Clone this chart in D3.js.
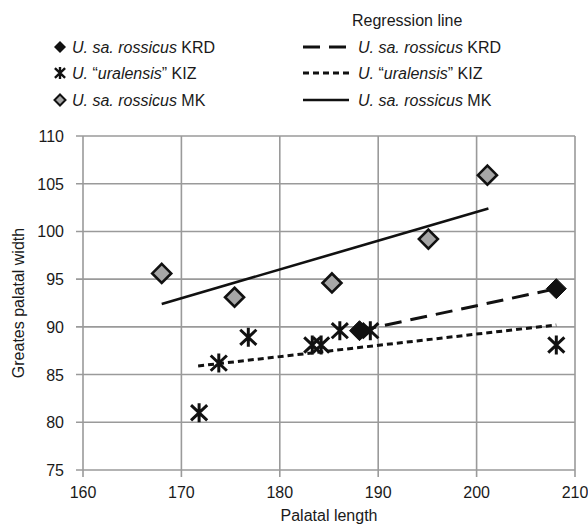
<!DOCTYPE html>
<html>
<head>
<meta charset="utf-8">
<script src="https://cdn.jsdelivr.net/npm/d3@7"></script>
<style>
  body { margin: 0; background: #fff; }
  text { font-family: "Liberation Sans", Arial, sans-serif; fill: #1a1a1a; }
</style>
</head>
<body>
<div id="chart"></div>
<script>
// points: [palatal length, palatal width]
const krdPoints = [[188.1, 89.6], [208.1, 94.0]];
const kizPoints = [[171.8, 81.0], [173.8, 86.2], [176.8, 88.9], [183.3, 88.1], [184.2, 88.1],
                   [186.1, 89.6], [189.2, 89.6], [208.1, 88.1]];
const mkPoints = [[168.0, 95.6], [175.4, 93.1], [185.3, 94.6], [195.1, 99.2], [201.1, 105.9]];

// regression line ends as drawn
const krdLine = [[188.1, 89.6], [208.1, 94.0]];
const kizLine = [[171.7, 85.9], [208.1, 90.2]];
const mkLine = [[168.0, 92.4], [201.2, 102.4]];

const xTicks = [160, 170, 180, 190, 200, 210];
const yTicks = [75, 80, 85, 90, 95, 100, 105, 110];

const W = 588, H = 524;
const margin = {top: 136, right: 13, bottom: 54, left: 83};
const width = W - margin.left - margin.right;
const height = H - margin.top - margin.bottom;

const svg = d3.select("#chart").append("svg")
    .attr("width", W)
    .attr("height", H);

const g = svg.append("g")
    .attr("transform", "translate(" + margin.left + "," + margin.top + ")");

const x = d3.scaleLinear().domain([160, 210]).range([0, width]);
const y = d3.scaleLinear().domain([75, 110]).range([height, 0]);

const gridColor = "#9a9a9a";

// grid
g.selectAll(".vgrid").data(xTicks).enter().append("line")
    .attr("x1", d => x(d)).attr("x2", d => x(d))
    .attr("y1", 0).attr("y2", height + 7)
    .attr("stroke", gridColor).attr("stroke-width", 1.6);
g.selectAll(".hgrid").data(yTicks).enter().append("line")
    .attr("x1", -7).attr("x2", width)
    .attr("y1", d => y(d)).attr("y2", d => y(d))
    .attr("stroke", gridColor).attr("stroke-width", 1.6);

// tick labels
g.selectAll(".xlab").data(xTicks).enter().append("text")
    .attr("x", d => x(d)).attr("y", height + 28)
    .attr("text-anchor", "middle")
    .style("font-size", "16px")
    .text(d => d);
g.selectAll(".ylab").data(yTicks).enter().append("text")
    .attr("x", -19).attr("y", d => y(d) + 6)
    .attr("text-anchor", "end")
    .style("font-size", "16px")
    .text(d => d);

// axis titles
svg.append("text")
    .attr("x", margin.left + width / 2).attr("y", 521)
    .attr("text-anchor", "middle")
    .style("font-size", "16px")
    .text("Palatal length");
svg.append("text")
    .attr("transform", "translate(24," + (margin.top + height / 2) + ") rotate(-90)")
    .attr("text-anchor", "middle")
    .style("font-size", "16px")
    .text("Greates palatal width");

// regression lines
const line = d3.line().x(d => x(d[0])).y(d => y(d[1]));
const lineStyles = [
    {data: mkLine, dash: null, w: 2.6},
    {data: kizLine, dash: "6,4", w: 3},
    {data: krdLine, dash: "17,9", w: 3}
];
lineStyles.forEach(s => {
    g.append("path")
        .attr("d", line(s.data))
        .attr("fill", "none")
        .attr("stroke", "#111")
        .attr("stroke-width", s.w)
        .attr("stroke-dasharray", s.dash);
});

// marker shapes
function diamond(r) {
    return "M0," + (-r) + "L" + r + ",0L0," + r + "L" + (-r) + ",0Z";
}
function star(r) {
    const a = r * 0.85, b = r * 0.8;
    return "M0," + (-r) + "V" + r +
        "M" + (-a) + "," + (-b) + "L" + a + "," + b +
        "M" + (-a) + "," + b + "L" + a + "," + (-b);
}

g.selectAll(".mk").data(mkPoints).enter().append("path")
    .attr("transform", d => "translate(" + x(d[0]) + "," + y(d[1]) + ")")
    .attr("d", diamond(9.5))
    .attr("fill", "#a6a6a6")
    .attr("stroke", "#111")
    .attr("stroke-width", 2.6);

g.selectAll(".kiz").data(kizPoints).enter().append("path")
    .attr("transform", d => "translate(" + x(d[0]) + "," + y(d[1]) + ")")
    .attr("d", star(9.5))
    .attr("fill", "none")
    .attr("stroke", "#111")
    .attr("stroke-width", 3);

g.selectAll(".krd").data(krdPoints).enter().append("path")
    .attr("transform", d => "translate(" + x(d[0]) + "," + y(d[1]) + ")")
    .attr("d", diamond(10))
    .attr("fill", "#111")
    .attr("stroke", "#111")
    .attr("stroke-width", 1);

// legend
const legendRows = [47, 73, 100];
const names = [
    [["U. sa. rossicus", true], [" KRD", false]],
    [["U.", true], [" \u201c", false], ["uralensis", true], ["\u201d KIZ", false]],
    [["U. sa. rossicus", true], [" MK", false]]
];

function addLabel(xp, yp, parts) {
    const t = svg.append("text")
        .attr("x", xp).attr("y", yp + 6)
        .style("font-size", "16px");
    parts.forEach(p => {
        t.append("tspan")
            .style("font-style", p[1] ? "italic" : "normal")
            .text(p[0]);
    });
}

const legMarkX = 60;
svg.append("path").attr("transform", "translate(" + legMarkX + "," + legendRows[0] + ")")
    .attr("d", diamond(6)).attr("fill", "#111");
svg.append("path").attr("transform", "translate(" + legMarkX + "," + legendRows[1] + ")")
    .attr("d", star(6)).attr("fill", "none").attr("stroke", "#111").attr("stroke-width", 2.4);
svg.append("path").attr("transform", "translate(" + legMarkX + "," + legendRows[2] + ")")
    .attr("d", diamond(5.5)).attr("fill", "#a6a6a6").attr("stroke", "#111").attr("stroke-width", 2);
names.forEach((n, i) => addLabel(legMarkX + 12, legendRows[i], n));

svg.append("text")
    .attr("x", 352).attr("y", legendRows[0] - 21)
    .style("font-size", "16px")
    .text("Regression line");

const legLines = [["17,9", 3], ["6,4", 3], [null, 2.6]];
legLines.forEach((s, i) => {
    svg.append("line")
        .attr("x1", 303).attr("x2", 349)
        .attr("y1", legendRows[i]).attr("y2", legendRows[i])
        .attr("stroke", "#111")
        .attr("stroke-width", s[1])
        .attr("stroke-dasharray", s[0]);
    addLabel(358, legendRows[i], names[i]);
});
</script>
</body>
</html>
